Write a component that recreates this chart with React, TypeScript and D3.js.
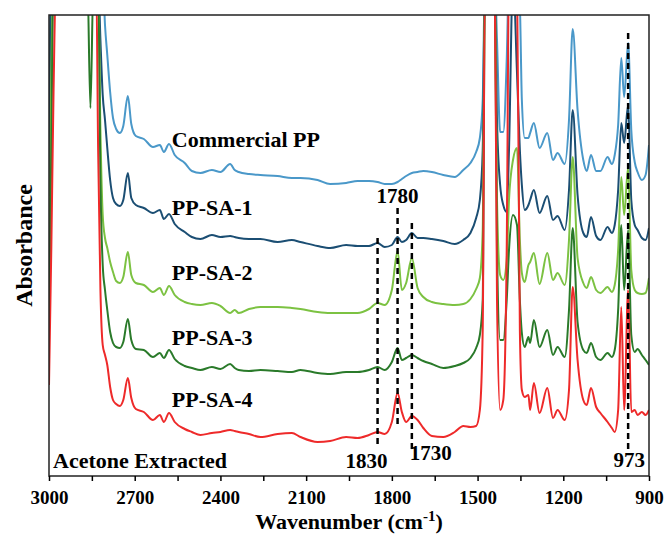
import React, { useEffect, useRef } from "react";
import * as d3 from "d3";

// Wavenumber grid (cm-1), shared by all spectra
const wavenumbers = [
  3000, 2992, 2984, 2975, 2866, 2855, 2844, 2835, 2828, 2820,
  2812, 2804, 2796, 2786, 2776, 2765, 2752, 2740, 2724, 2712,
  2696, 2668, 2636, 2612, 2598, 2580, 2560, 2525, 2500, 2470,
  2430, 2400, 2366, 2350, 2336, 2300, 2260, 2200, 2150, 2120,
  2060, 2016, 1960, 1920, 1880, 1850, 1825, 1800, 1780, 1765,
  1750, 1730, 1710, 1690, 1660, 1620, 1580, 1550, 1525, 1505,
  1492, 1482, 1474, 1440, 1432, 1421, 1410, 1398, 1390, 1376,
  1362, 1352, 1345, 1335, 1322, 1316, 1303, 1283, 1256, 1236,
  1220, 1195, 1180, 1167, 1150, 1130, 1118, 1103, 1085, 1070,
  1045, 1030, 1020, 1008, 997, 987, 973, 962, 950, 940,
  925, 912, 900,
];

// Absorbance (arbitrary units, stacked as in the figure)
const commercialPP = [
  3.01, 4.9, 5, 5, 5, 5, 5, 5, 5, 5,
  5, 4.51, 4.21, 3.84, 3.58, 3.47, 3.43, 3.5, 3.8, 3.52,
  3.4, 3.37, 3.29, 3.31, 3.24, 3.32, 3.21, 3.13, 3.05, 3.03,
  3.06, 3.04, 3.12, 3.06, 3.04, 3.02, 3.01, 3.0, 2.98, 2.98,
  2.96, 2.92, 2.93, 2.95, 2.95, 2.94, 2.92, 2.92, 2.94, 2.97,
  3.0, 3.03, 3.04, 3.05, 3.04, 3.01, 2.99, 3.06, 3.13, 3.24,
  3.38, 3.76, 5, 5, 4.36, 3.44, 3.44, 4.16, 5, 5,
  5, 4.7, 3.76, 3.38, 3.38, 3.43, 3.53, 3.28, 3.43, 3.16,
  3.23, 3.12, 3.56, 4.47, 3.66, 3.16, 3.05, 3.21, 3.05, 3.05,
  3.19, 3.12, 3.21, 3.51, 4.18, 3.79, 4.33, 3.46, 3.14, 3.04,
  2.96, 3.01, 3.31,
];
const ppSA1 = [
  2.8, 5, 5, 5, 5, 5, 5, 5, 5, 4.36,
  3.81, 3.56, 3.28, 2.96, 2.78, 2.72, 2.7, 2.76, 3.03, 2.78,
  2.71, 2.68, 2.63, 2.66, 2.57, 2.62, 2.52, 2.44, 2.39, 2.37,
  2.41, 2.39, 2.4, 2.39, 2.38, 2.37, 2.37, 2.34, 2.36, 2.34,
  2.3, 2.28, 2.31, 2.3, 2.3, 2.33, 2.29, 2.31, 2.39, 2.34,
  2.36, 2.43, 2.38, 2.38, 2.37, 2.35, 2.32, 2.36, 2.43, 2.58,
  2.76, 3.26, 5, 5, 3.56, 2.91, 2.71, 2.64, 3.26, 5,
  4.03, 3.26, 2.91, 2.66, 2.71, 2.76, 2.86, 2.63, 2.8, 2.56,
  2.6, 2.46, 2.86, 3.66, 2.81, 2.43, 2.39, 2.59, 2.4, 2.36,
  2.49, 2.43, 2.51, 2.86, 3.53, 3.33, 3.71, 2.76, 2.51, 2.46,
  2.38, 2.36, 2.48,
];
const ppSA2 = [
  1.76, 4.0, 5, 5, 5, 5, 5, 5, 5, 3.46,
  2.61, 2.38, 2.28, 2.14, 2.04, 1.95, 1.93, 1.99, 2.24, 2.01,
  1.93, 1.91, 1.84, 1.88, 1.81, 1.9, 1.81, 1.74, 1.72, 1.71,
  1.73, 1.7, 1.63, 1.66, 1.63, 1.67, 1.69, 1.69, 1.68, 1.67,
  1.64, 1.63, 1.63, 1.63, 1.67, 1.73, 1.71, 1.86, 2.25, 1.86,
  1.93, 2.18, 1.88, 1.79, 1.74, 1.72, 1.71, 1.72, 1.77, 1.87,
  1.98, 2.46, 5, 5, 2.76, 2.01, 1.96, 2.16, 2.76, 3.16,
  3.28, 2.36, 2.03, 1.94, 2.11, 2.14, 2.23, 1.92, 2.23, 1.96,
  2.03, 1.91, 2.36, 3.19, 2.18, 1.93, 1.88, 1.99, 1.86, 1.83,
  1.89, 1.84, 1.91, 2.26, 2.99, 2.61, 3.09, 2.06, 1.86, 1.83,
  1.82, 1.83, 1.98,
];
const ppSA3 = [
  1.46, 3.26, 5, 5, 5, 3.68, 5, 5, 5, 2.96,
  2.11, 1.86, 1.66, 1.44, 1.33, 1.29, 1.28, 1.34, 1.57, 1.36,
  1.27, 1.26, 1.19, 1.23, 1.18, 1.26, 1.17, 1.1, 1.08, 1.06,
  1.09, 1.07, 1.12, 1.08, 1.06, 1.05, 1.06, 1.05, 1.04, 1.06,
  1.03, 1.02, 1.04, 1.04, 1.06, 1.09, 1.06, 1.14, 1.28, 1.16,
  1.18, 1.21, 1.18, 1.15, 1.12, 1.08, 1.1, 1.13, 1.18, 1.28,
  1.41, 1.76, 5, 5, 2.26, 1.36, 1.36, 1.76, 2.26, 2.61,
  2.51, 1.76, 1.43, 1.29, 1.39, 1.33, 1.56, 1.29, 1.46, 1.21,
  1.29, 1.19, 1.66, 2.48, 1.54, 1.26, 1.23, 1.33, 1.19, 1.16,
  1.23, 1.19, 1.26, 1.66, 2.51, 1.86, 2.46, 1.41, 1.24, 1.27,
  1.21, 1.16, 1.11,
];
const ppSA4 = [
  0.91, 2.26, 3.86, 5, 5, 5, 5, 5, 3.26, 1.86,
  1.31, 1.21, 1.11, 0.89, 0.76, 0.72, 0.7, 0.76, 0.98, 0.78,
  0.67, 0.64, 0.56, 0.61, 0.54, 0.63, 0.54, 0.47, 0.44, 0.41,
  0.43, 0.44, 0.46, 0.45, 0.44, 0.42, 0.39, 0.42, 0.43, 0.39,
  0.34, 0.35, 0.39, 0.38, 0.41, 0.44, 0.42, 0.54, 0.83, 0.64,
  0.54, 0.6, 0.56, 0.48, 0.4, 0.39, 0.44, 0.5, 0.49, 0.5,
  0.66, 1.46, 5, 5, 1.76, 0.66, 0.76, 2.26, 5, 5,
  5, 1.46, 0.86, 0.79, 0.81, 0.66, 0.93, 0.63, 0.88, 0.58,
  0.66, 0.56, 0.86, 1.89, 1.16, 0.76, 0.71, 0.88, 0.69, 0.63,
  0.54, 0.48, 0.44, 0.66, 1.69, 0.66, 1.86, 0.64, 0.66, 0.61,
  0.64, 0.61, 0.66,
];

const seriesNames = ["Commercial PP", "PP-SA-1", "PP-SA-2", "PP-SA-3", "PP-SA-4"];
const seriesValues = [commercialPP, ppSA1, ppSA2, ppSA3, ppSA4];
const seriesColors = ["#4a98c9", "#1b4e73", "#7cc242", "#2a7a2a", "#ee2a2a"];
const labelLevels = [3.29, 2.61, 1.96, 1.31, 0.69];
const labelWavenumber = 2570;

const majorTicks = [3000, 2700, 2400, 2100, 1800, 1500, 1200, 900];
const minorTicks = [2850, 2550, 2250, 1950, 1650, 1350, 1050];

const markerWavenumbers = [1850, 1780, 1730, 973];
const markerLabels = ["1830", "1780", "1730", "973"];
const markerTop = [2.38, 2.68, 2.53, 4.43];
const markerBottom = [0.31, 0.51, 0.23, 0.23];

const W = 665;
const H = 534;
const M = { left: 49, right: 16, top: 15, bottom: 58 };
const FONT = "'Liberation Serif', 'Times New Roman', serif";

export default function App() {
  const majorRef = useRef<SVGGElement>(null);
  const minorRef = useRef<SVGGElement>(null);

  const x = d3.scaleLinear().domain([3000, 900]).range([M.left, W - M.right]);
  const y = d3.scaleLinear().domain([0, 4.61]).range([H - M.bottom, M.top]);

  const line = d3
    .line<number>()
    .x((_, i) => x(wavenumbers[i]))
    .y((d) => y(d))
    .curve(d3.curveMonotoneX);

  useEffect(() => {
    if (majorRef.current) {
      const g = d3.select(majorRef.current);
      g.call(
        d3
          .axisBottom(x)
          .tickValues(majorTicks)
          .tickSize(5)
          .tickPadding(10)
          .tickFormat(d3.format("d") as any)
      );
      g.select(".domain").remove();
      g.selectAll("line").attr("stroke", "#000").attr("stroke-width", 1.5);
      g.selectAll("text")
        .attr("font-family", FONT)
        .attr("font-size", 19)
        .attr("font-weight", "bold")
        .attr("fill", "#000");
    }
    if (minorRef.current) {
      const g = d3.select(minorRef.current);
      g.call(
        d3
          .axisBottom(x)
          .tickValues(minorTicks)
          .tickSize(5)
          .tickFormat(() => "")
      );
      g.select(".domain").remove();
      g.selectAll("line").attr("stroke", "#000").attr("stroke-width", 1.5);
    }
  }, []);

  const plotW = W - M.left - M.right;
  const plotH = H - M.top - M.bottom;
  const labelDx = [-11, 0, 19, 1];
  const labelY = [468, 203, 460, 467];

  return (
    <svg
      width={W}
      height={H}
      style={{ position: "absolute", left: 0, top: 0, background: "#fff" }}
      fontFamily={FONT}
    >
      <defs>
        <clipPath id="plotClip">
          <rect x={M.left} y={M.top} width={plotW} height={plotH} />
        </clipPath>
      </defs>
      <g clipPath="url(#plotClip)">
        {seriesValues.map((vals, i) => (
          <path
            key={seriesNames[i]}
            d={line(vals) || ""}
            fill="none"
            stroke={seriesColors[i]}
            strokeWidth={2}
            strokeLinejoin="round"
          />
        ))}
      </g>
      {markerWavenumbers.map((w, i) => (
        <line
          key={"m" + i}
          x1={x(w)}
          x2={x(w)}
          y1={y(markerTop[i])}
          y2={y(markerBottom[i])}
          stroke="#000"
          strokeWidth={2.5}
          strokeDasharray="6,4"
        />
      ))}
      {markerLabels.map((t, i) => (
        <text
          key={"ml" + i}
          x={x(markerWavenumbers[i]) + labelDx[i]}
          y={labelY[i]}
          textAnchor="middle"
          fontSize={21}
          fontWeight="bold"
        >
          {t}
        </text>
      ))}
      {seriesNames.map((n, i) => (
        <text
          key={"l" + n}
          x={x(labelWavenumber)}
          y={y(labelLevels[i])}
          fontSize={22}
          fontWeight="bold"
        >
          {n}
        </text>
      ))}
      <text x={M.left + 4} y={468} fontSize={22} fontWeight="bold">
        Acetone Extracted
      </text>
      <rect
        x={M.left}
        y={M.top}
        width={plotW}
        height={plotH}
        fill="none"
        stroke="#222"
        strokeWidth={1.5}
      />
      <g ref={majorRef} transform={`translate(0,${H - M.bottom})`} />
      <g ref={minorRef} transform={`translate(0,${H - M.bottom})`} />
      <text
        x={M.left + plotW / 2}
        y={529}
        textAnchor="middle"
        fontSize={22}
        fontWeight="bold"
      >
        Wavenumber (cm
        <tspan dy={-8} fontSize={15}>-1</tspan>
        <tspan dy={8}>)</tspan>
      </text>
      <text
        transform={`translate(32,${M.top + plotH / 2}) rotate(-90)`}
        textAnchor="middle"
        fontSize={24}
        fontWeight="bold"
      >
        Absorbance
      </text>
    </svg>
  );
}
